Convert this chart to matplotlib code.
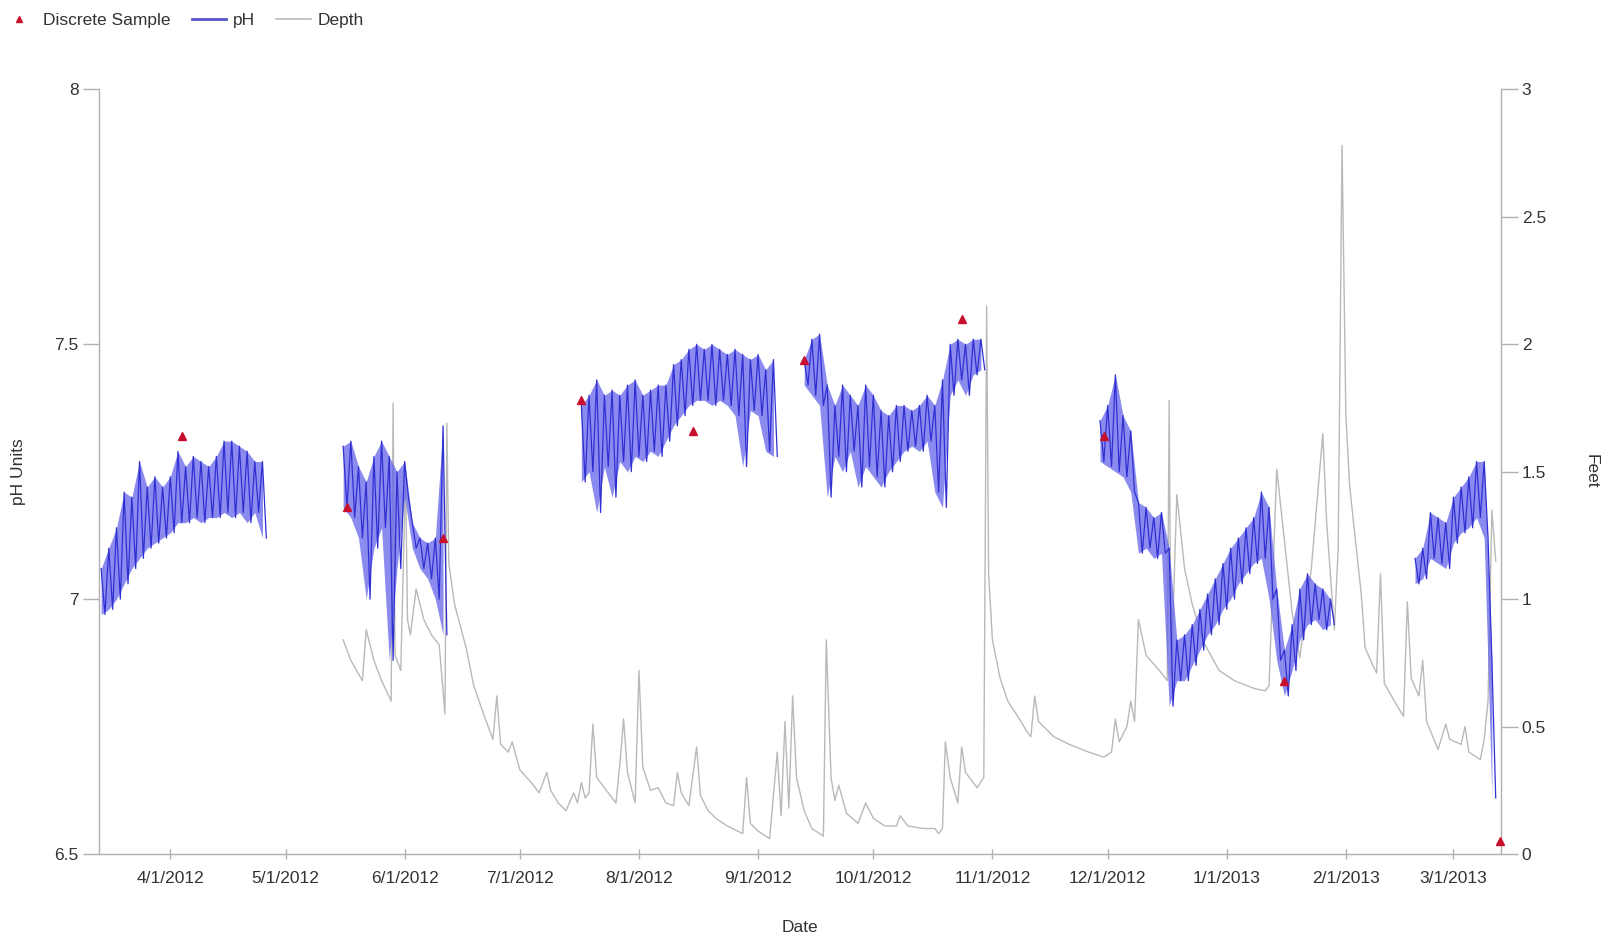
import numpy as np
import pandas as pd
import matplotlib
matplotlib.use('Agg')
import matplotlib.pyplot as plt
import matplotlib.dates as mdates
from matplotlib.lines import Line2D
from matplotlib.ticker import FuncFormatter, FixedLocator

plt.rcParams['font.family'] = ['Liberation Sans', 'DejaVu Sans']

##### DATA

# pH sonde record: gaps between deployments, so six pieces.
# Each piece: first date, then a daily high / low read every 2 days.
ph1_start = '2012-03-14'
ph1_hi = [7.06, 7.10, 7.14, 7.21, 7.20, 7.27, 7.22, 7.24, 7.22, 7.24, 7.29,
          7.26, 7.28, 7.27, 7.26, 7.28, 7.31, 7.31, 7.30, 7.29, 7.27, 7.27]
ph1_lo = [6.97, 6.98, 7.00, 7.03, 7.06, 7.08, 7.10, 7.11, 7.12, 7.13, 7.15,
          7.15, 7.16, 7.15, 7.16, 7.16, 7.17, 7.16, 7.17, 7.15, 7.17, 7.12]

ph2_start = '2012-05-16'
ph2_hi = [7.30, 7.31, 7.26, 7.23, 7.28, 7.31, 7.28, 7.25, 7.27, 7.15, 7.12,
          7.11, 7.12, 7.34]
ph2_lo = [7.18, 7.16, 7.12, 7.00, 7.10, 7.14, 6.88, 7.06, 7.20, 7.10, 7.06,
          7.04, 7.00, 6.93]

ph3_start = '2012-07-17'
ph3_hi = [7.38, 7.40, 7.43, 7.40, 7.41, 7.40, 7.42, 7.43, 7.40, 7.41, 7.42,
          7.42, 7.46, 7.47, 7.49, 7.50, 7.49, 7.50, 7.49, 7.48, 7.49, 7.48,
          7.47, 7.48, 7.45, 7.47]
ph3_lo = [7.23, 7.25, 7.17, 7.26, 7.20, 7.27, 7.25, 7.28, 7.27, 7.29, 7.28,
          7.31, 7.34, 7.36, 7.38, 7.39, 7.39, 7.38, 7.39, 7.38, 7.36, 7.26,
          7.37, 7.36, 7.29, 7.28]

ph4_start = '2012-09-13'
ph4_hi = [7.47, 7.51, 7.52, 7.42, 7.38, 7.42, 7.40, 7.38, 7.42, 7.40, 7.37,
          7.36, 7.38, 7.38, 7.37, 7.38, 7.40, 7.38, 7.43, 7.50, 7.51, 7.50,
          7.51, 7.51]
ph4_lo = [7.42, 7.40, 7.38, 7.20, 7.28, 7.25, 7.29, 7.22, 7.26, 7.24, 7.22,
          7.25, 7.27, 7.29, 7.30, 7.29, 7.31, 7.21, 7.18, 7.40, 7.43, 7.40,
          7.44, 7.45]

ph5_start = '2012-11-29'
ph5_hi = [7.35, 7.38, 7.44, 7.36, 7.33, 7.19, 7.18, 7.16, 7.17, 7.10, 6.92,
          6.93, 6.95, 6.98, 7.01, 7.04, 7.07, 7.10, 7.12, 7.14, 7.16, 7.21,
          7.18, 7.02, 6.90, 6.95, 7.02, 7.05, 7.03, 7.02, 7.00]
ph5_lo = [7.27, 7.26, 7.25, 7.24, 7.21, 7.09, 7.10, 7.08, 7.09, 6.79, 6.84,
          6.84, 6.87, 6.90, 6.93, 6.95, 6.98, 7.00, 7.03, 7.05, 7.07, 7.08,
          7.00, 6.88, 6.81, 6.86, 6.92, 6.95, 6.96, 6.94, 6.95]

ph6_start = '2013-02-19'
ph6_hi = [7.08, 7.10, 7.17, 7.16, 7.15, 7.20, 7.22, 7.24, 7.27, 7.27, 6.88]
ph6_lo = [7.03, 7.04, 7.08, 7.07, 7.06, 7.11, 7.13, 7.14, 7.16, 7.12, 6.61]

# Stage (feet)
depth_dates = [
    '2012-05-16', '2012-05-18', '2012-05-21', '2012-05-22', '2012-05-24',
    '2012-05-26', '2012-05-28 12:00', '2012-05-29', '2012-05-29 12:00',
    '2012-05-31', '2012-06-01 06:00', '2012-06-01 18:00', '2012-06-02 12:00',
    '2012-06-04', '2012-06-06', '2012-06-08', '2012-06-10', '2012-06-11 12:00',
    '2012-06-12', '2012-06-12 12:00', '2012-06-14', '2012-06-17', '2012-06-19',
    '2012-06-22', '2012-06-24', '2012-06-25', '2012-06-26', '2012-06-28',
    '2012-06-29', '2012-07-01', '2012-07-04', '2012-07-06', '2012-07-08',
    '2012-07-09', '2012-07-11', '2012-07-13', '2012-07-15', '2012-07-16',
    '2012-07-17', '2012-07-18', '2012-07-19', '2012-07-20', '2012-07-21',
    '2012-07-23', '2012-07-26', '2012-07-27', '2012-07-28', '2012-07-29',
    '2012-07-31', '2012-08-01', '2012-08-02', '2012-08-04', '2012-08-06',
    '2012-08-08', '2012-08-10', '2012-08-11', '2012-08-12', '2012-08-14',
    '2012-08-16', '2012-08-17', '2012-08-19', '2012-08-21', '2012-08-24',
    '2012-08-28', '2012-08-29', '2012-08-30', '2012-09-01', '2012-09-04',
    '2012-09-06', '2012-09-07', '2012-09-08', '2012-09-09', '2012-09-10',
    '2012-09-11', '2012-09-13', '2012-09-15', '2012-09-18', '2012-09-18 18:00',
    '2012-09-20', '2012-09-21', '2012-09-22', '2012-09-24', '2012-09-27',
    '2012-09-29', '2012-10-01', '2012-10-04', '2012-10-07', '2012-10-08',
    '2012-10-10', '2012-10-14', '2012-10-17', '2012-10-18', '2012-10-19',
    '2012-10-19 18:00', '2012-10-21', '2012-10-23', '2012-10-24', '2012-10-25',
    '2012-10-28', '2012-10-29 18:00', '2012-10-30 12:00', '2012-10-31',
    '2012-11-01', '2012-11-03', '2012-11-05', '2012-11-08', '2012-11-10',
    '2012-11-11', '2012-11-12', '2012-11-13', '2012-11-17', '2012-11-21',
    '2012-11-26', '2012-11-30', '2012-12-02', '2012-12-03', '2012-12-04',
    '2012-12-06', '2012-12-07', '2012-12-08', '2012-12-09', '2012-12-11',
    '2012-12-15', '2012-12-16 12:00', '2012-12-17', '2012-12-17 12:00',
    '2012-12-19', '2012-12-21', '2012-12-23', '2012-12-26', '2012-12-30',
    '2013-01-03', '2013-01-08', '2013-01-11', '2013-01-12', '2013-01-14',
    '2013-01-16', '2013-01-18', '2013-01-20', '2013-01-23', '2013-01-26',
    '2013-01-27', '2013-01-29', '2013-01-30', '2013-01-31', '2013-02-01',
    '2013-02-02', '2013-02-05', '2013-02-06', '2013-02-08', '2013-02-09',
    '2013-02-10', '2013-02-11', '2013-02-14', '2013-02-16', '2013-02-17',
    '2013-02-18', '2013-02-20', '2013-02-21', '2013-02-22', '2013-02-25',
    '2013-02-27', '2013-02-28', '2013-03-03', '2013-03-04', '2013-03-05',
    '2013-03-08', '2013-03-09', '2013-03-10', '2013-03-11', '2013-03-12']
depth_ft = [
    0.84, 0.76, 0.68, 0.88, 0.76,
    0.68, 0.60, 1.77, 0.78,
    0.72, 1.50, 0.92, 0.86,
    1.04, 0.92, 0.86, 0.82, 0.55,
    1.69, 1.14, 0.98, 0.81, 0.66,
    0.53, 0.45, 0.62, 0.43, 0.40,
    0.44, 0.33, 0.28, 0.24, 0.32,
    0.25, 0.20, 0.17, 0.24, 0.20,
    0.28, 0.22, 0.24, 0.51, 0.30,
    0.26, 0.20, 0.35, 0.53, 0.32,
    0.20, 0.72, 0.34, 0.25, 0.26,
    0.20, 0.19, 0.32, 0.24, 0.19,
    0.42, 0.23, 0.17, 0.14, 0.11,
    0.08, 0.30, 0.12, 0.09, 0.06,
    0.40, 0.15, 0.52, 0.18, 0.62,
    0.30, 0.17, 0.10, 0.07, 0.84,
    0.30, 0.21, 0.27, 0.16, 0.12,
    0.20, 0.14, 0.11, 0.11, 0.15,
    0.11, 0.10, 0.10, 0.08, 0.10,
    0.44, 0.30, 0.20, 0.42, 0.32,
    0.26, 0.30, 2.15, 1.10,
    0.84, 0.69, 0.60, 0.53, 0.48,
    0.46, 0.62, 0.52, 0.46, 0.43,
    0.40, 0.38, 0.40, 0.53, 0.44,
    0.50, 0.60, 0.52, 0.92, 0.78,
    0.71, 0.68, 1.78, 0.70,
    1.41, 1.12, 0.98, 0.83, 0.72,
    0.68, 0.65, 0.64, 0.66, 1.51,
    1.23, 0.95, 0.77, 1.12, 1.65,
    1.30, 0.88, 1.20, 2.78, 1.72,
    1.44, 1.02, 0.81, 0.74, 0.71,
    1.10, 0.67, 0.59, 0.54, 0.99,
    0.69, 0.62, 0.76, 0.52, 0.41,
    0.51, 0.45, 0.43, 0.50, 0.40,
    0.37, 0.45, 0.60, 1.35, 1.15]

# grab samples
sample_dates = ['2012-04-04', '2012-05-17', '2012-06-11', '2012-07-17',
                '2012-08-15', '2012-09-13', '2012-10-24', '2012-11-30',
                '2013-01-16', '2013-03-13']
sample_ph = [7.32, 7.18, 7.12, 7.39, 7.33, 7.47, 7.55, 7.32, 6.84, 6.525]

##### FUNCTIONS

def zigzag(start, hi, lo):
    '''Turn the high/low readings of one piece into a line: high on the
    listed day, low one day later.'''
    t0 = pd.Timestamp(start)
    x, y = [], []
    for i in range(len(hi)):
        x.append(t0 + pd.Timedelta(days=2 * i))
        y.append(hi[i])
        x.append(t0 + pd.Timedelta(days=2 * i + 1))
        y.append(lo[i])
    return x, y

def date_label(v, pos):
    d = mdates.num2date(v)
    return '%d/%d/%d' % (d.month, d.day, d.year)

##### PLOT

W, H = 1612, 935
fig = plt.figure(figsize=(W / 100., H / 100.), dpi=100)
ax = fig.add_axes([98.7 / W, 1 - 854. / H, 1402.3 / W, 764.6 / H])
ax2 = ax.twinx()

# pH axis goes on top of the depth axis
ax.set_zorder(ax2.get_zorder() + 1)
ax.patch.set_visible(False)

blue = '#3030d2'
band = '#6464ea'
gray = '#b9b9b9'
red = '#c8102e'
axc = '#b0b0b0'
txt = '#333333'

ax2.plot(pd.to_datetime(depth_dates, format='mixed'), depth_ft, '-',
         color=gray, lw=1.0)

segments = [(ph1_start, ph1_hi, ph1_lo), (ph2_start, ph2_hi, ph2_lo),
            (ph3_start, ph3_hi, ph3_lo), (ph4_start, ph4_hi, ph4_lo),
            (ph5_start, ph5_hi, ph5_lo), (ph6_start, ph6_hi, ph6_lo)]
for start, hi, lo in segments:
    x, y = zigzag(start, hi, lo)
    # shade the daily swing, then draw the swing itself on top
    ax.fill_between(x[0::2], lo, hi, color=band, alpha=0.75, lw=0)
    ax.plot(x, y, '-', color=blue, lw=0.9)

ax.plot(pd.to_datetime(sample_dates), sample_ph, '^', color=red, ms=6,
        mec=red, ls='none', clip_on=False)

# Limits
ax.set_xlim(pd.Timestamp('2012-03-13 09:00'), pd.Timestamp('2013-03-13 09:00'))
ax.set_ylim(6.5, 8.0)
ax2.set_ylim(0, 3)

# Ticks
ax.xaxis.set_major_locator(mdates.MonthLocator(bymonthday=1))
ax.xaxis.set_major_formatter(FuncFormatter(date_label))
ax.yaxis.set_major_locator(FixedLocator([6.5, 7, 7.5, 8]))
ax.yaxis.set_major_formatter(FuncFormatter(lambda v, p: '%g' % v))
ax2.yaxis.set_major_locator(FixedLocator([0, 0.5, 1, 1.5, 2, 2.5, 3]))
ax2.yaxis.set_major_formatter(FuncFormatter(lambda v, p: '%g' % v))

ax.tick_params(axis='y', direction='out', length=11.5, width=1, color=axc,
               labelsize=12.5, labelcolor=txt, pad=3)
ax.tick_params(axis='x', direction='inout', length=6.5, width=1, color=axc,
               labelsize=12.5, labelcolor=txt, pad=9)
ax2.tick_params(axis='y', direction='out', length=12, width=1, color=axc,
                labelsize=12.5, labelcolor=txt, pad=3)

# Spines
for a in (ax, ax2):
    for s in a.spines.values():
        s.set_color(axc)
        s.set_linewidth(1)
    a.spines['top'].set_visible(False)
ax.spines['right'].set_visible(False)
ax2.spines['left'].set_visible(False)
ax2.spines['bottom'].set_visible(False)

# Labels
ax.set_ylabel('pH Units', fontsize=12.5, color=txt)
ax.yaxis.set_label_coords((25.7 - 98.7) / 1402.3, 0.5)
ax2.set_ylabel('Feet', fontsize=12.5, color=txt, rotation=270, va='center')
ax2.yaxis.set_label_coords((1591.5 - 98.7) / 1402.3, 0.5)
ax.set_xlabel('Date', fontsize=12.5, color=txt)
ax.xaxis.set_label_coords(0.5, (854. - 920.) / 764.6)

# Legend across the top
handles = [Line2D([], [], marker='^', ls='none', color=red, ms=4.5),
           Line2D([], [], color='#5555c8', lw=2),
           Line2D([], [], color=gray, lw=1.2)]
fig.legend(handles, ['Discrete Sample', 'pH', 'Depth'], loc='center left',
           bbox_to_anchor=(1.5 / W, 1 - 20.6 / H), ncol=3, frameon=False,
           fontsize=12.5, handlelength=2, handletextpad=0.4,
           columnspacing=1.2, borderpad=0, borderaxespad=0,
           labelcolor=txt)

fig.savefig('out.png', dpi=100)
